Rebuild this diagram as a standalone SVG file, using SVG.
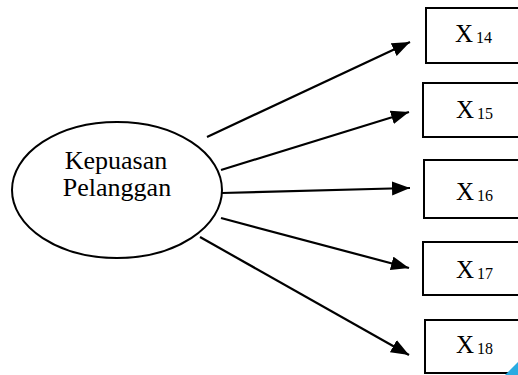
<svg xmlns="http://www.w3.org/2000/svg" width="518" height="375" viewBox="0 0 518 375">
<style>
.shape{fill:#fff;stroke:#000;stroke-width:2}
.lbl{font-family:"Liberation Serif","Times New Roman",serif;fill:#000}
.sub{font-size:16px}
.conn line{stroke:#000;stroke-width:2.2;fill:none}
</style>
<defs>
<marker id="ah" markerUnits="userSpaceOnUse" markerWidth="19" markerHeight="15" refX="18" refY="7" orient="auto">
<path d="M0,0 L18,7 L0,14 Z" fill="#000"/>
</marker>
</defs>
<rect width="518" height="375" fill="#fff"/>
<g id="kepuasan">
<ellipse class="shape" cx="117" cy="190" rx="105" ry="68"/>
<text class="lbl" x="116" y="169" font-size="26" text-anchor="middle">Kepuasan</text>
<text class="lbl" x="117" y="196" font-size="26" text-anchor="middle">Pelanggan</text>
</g>
<g id="x14">
<rect class="shape" x="426" y="8" width="110" height="55"/>
<text class="lbl" x="455" y="42" font-size="25">X<tspan class="sub" dx="3" dy="1">14</tspan></text>
</g>
<g id="x15">
<rect class="shape" x="423" y="83" width="110" height="54"/>
<text class="lbl" x="456" y="118" font-size="25">X<tspan class="sub" dx="3" dy="1">15</tspan></text>
</g>
<g id="x16">
<rect class="shape" x="424" y="160" width="110" height="58"/>
<text class="lbl" x="456" y="200" font-size="25">X<tspan class="sub" dx="3" dy="1">16</tspan></text>
</g>
<g id="x17">
<rect class="shape" x="423" y="242" width="110" height="53"/>
<text class="lbl" x="456" y="278" font-size="25">X<tspan class="sub" dx="3" dy="1">17</tspan></text>
</g>
<g id="x18">
<rect class="shape" x="425" y="320" width="110" height="53"/>
<text class="lbl" x="456" y="353" font-size="25">X<tspan class="sub" dx="3" dy="1">18</tspan></text>
</g>
<g id="connectors" class="conn">
<line x1="207" y1="137" x2="410" y2="42" marker-end="url(#ah)"/>
<line x1="221" y1="170" x2="409" y2="112" marker-end="url(#ah)"/>
<line x1="222" y1="193" x2="410" y2="188" marker-end="url(#ah)"/>
<line x1="221" y1="218" x2="409" y2="268" marker-end="url(#ah)"/>
<line x1="200" y1="237" x2="409" y2="355" marker-end="url(#ah)"/>
</g>
<polygon points="505,375 518,362 518,375" fill="#29abe2"/>
</svg>
